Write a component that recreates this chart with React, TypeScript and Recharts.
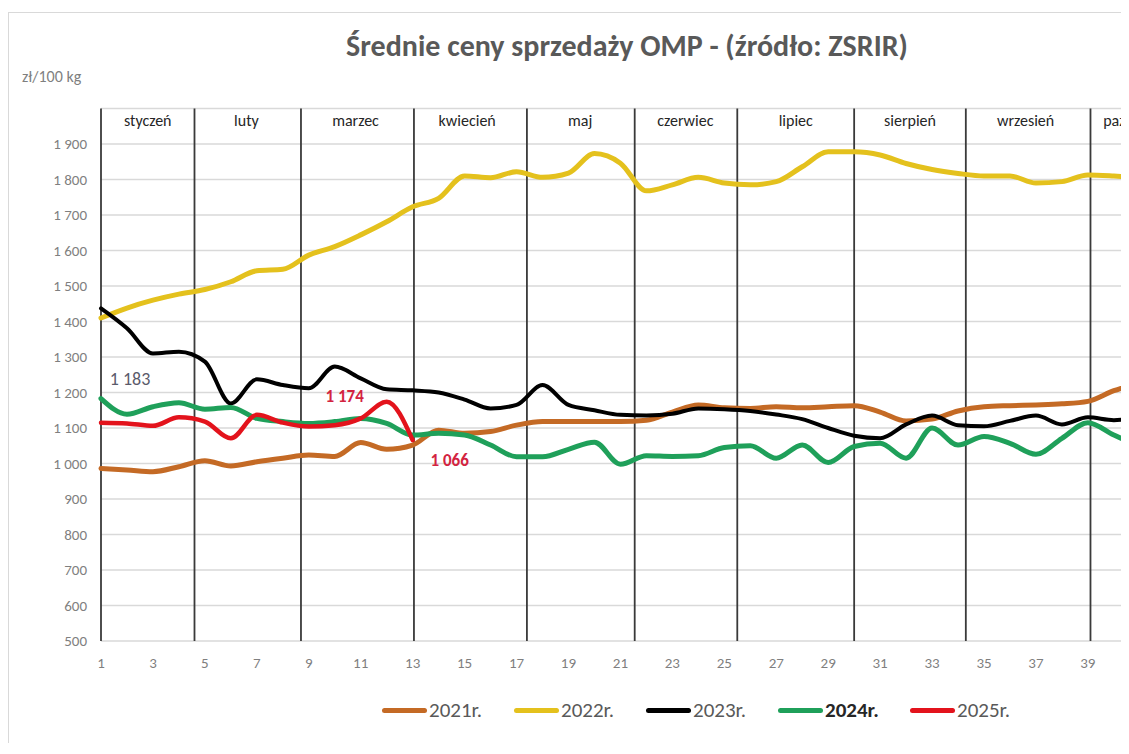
import React from 'react';
import { LineChart, Line, XAxis, YAxis, CartesianGrid, ReferenceLine, Legend } from 'recharts';

const FONT = 'Carlito, "Open Sans", "Noto Sans", sans-serif';

// tygodnie roku
const weeks = [
  1, 2, 3, 4, 5, 6, 7, 8, 9, 10, 11, 12, 13, 14, 15, 16, 17, 18, 19, 20, 21,
  22, 23, 24, 25, 26, 27, 28, 29, 30, 31, 32, 33, 34, 35, 36, 37, 38, 39, 40, 41,
];

const y2021 = [
  986, 982, 977, 991, 1008, 993, 1005, 1015, 1024, 1020, 1059, 1040, 1052, 1094, 1085, 1090, 1108,
  1118, 1118, 1118, 1118, 1122, 1145, 1165, 1157, 1155, 1160, 1157, 1160, 1163, 1145, 1120, 1125,
  1148, 1160, 1163, 1165, 1168, 1175, 1205, 1228,
];
const y2022 = [
  1410, 1438, 1460, 1477, 1490, 1512, 1543, 1547, 1587, 1611, 1644, 1681, 1723, 1747, 1810, 1805,
  1822, 1806, 1818, 1873, 1846, 1768, 1785, 1806, 1790, 1785, 1794, 1836, 1878, 1878, 1869, 1845,
  1828, 1817, 1810, 1810, 1790, 1794, 1813, 1810, 1805,
];
const y2023 = [
  1437, 1381, 1310, 1315, 1287, 1169, 1237, 1221, 1212, 1273, 1240, 1209, 1206, 1200, 1180, 1155,
  1165, 1221, 1165, 1150, 1137, 1135, 1140, 1155, 1153, 1148, 1138, 1125, 1100, 1078, 1071, 1110,
  1135, 1108, 1105, 1120, 1135, 1110, 1130, 1122, 1132,
];
const y2024 = [
  1183, 1139, 1160, 1171, 1153, 1158, 1127, 1118, 1113, 1118, 1127, 1113, 1080, 1085, 1080, 1052,
  1019, 1019, 1040, 1060, 998, 1022, 1020, 1022, 1045, 1050, 1015, 1052, 1003, 1048, 1057, 1015,
  1100, 1052, 1076, 1057, 1026, 1071, 1115, 1080, 1048,
];
const y2025 = [1115, 1113, 1106, 1130, 1118, 1071, 1137, 1115, 1104, 1108, 1127, 1174, 1066];

const yTicks = [500, 600, 700, 800, 900, 1000, 1100, 1200, 1300, 1400, 1500, 1600, 1700, 1800, 1900];
const xTicks = [1, 3, 5, 7, 9, 11, 13, 15, 17, 19, 21, 23, 25, 27, 29, 31, 33, 35, 37, 39, 41];

// granice miesięcy (w tygodniach) i położenie nazw
const monthBounds = [1, 4.6, 8.7, 13.05, 17.4, 21.55, 25.5, 30, 34.3, 39.1];
const monthNames = ['styczeń', 'luty', 'marzec', 'kwiecień', 'maj', 'czerwiec', 'lipiec', 'sierpień', 'wrzesień', 'październik'];
const monthLabelAt = [2.8, 6.6, 10.8, 15.1, 19.45, 23.5, 27.75, 32.15, 36.6, 41.0];

const series = [
  { key: 'y2021', name: '2021r.', color: '#C46A25', width: 5 },
  { key: 'y2022', name: '2022r.', color: '#E4C11D', width: 5 },
  { key: 'y2023', name: '2023r.', color: '#000000', width: 4 },
  { key: 'y2024', name: '2024r.', color: '#1FA05A', width: 5 },
  { key: 'y2025', name: '2025r.', color: '#E3131C', width: 4.5 },
];

const data = weeks.map((w, i) => ({
  week: w,
  y2021: y2021[i],
  y2022: y2022[i],
  y2023: y2023[i],
  y2024: y2024[i],
  y2025: i < y2025.length ? y2025[i] : null,
}));

const fmt = (v: number) =>
  v >= 1000 ? `${Math.floor(v / 1000)} ${String(v % 1000).padStart(3, '0')}` : String(v);

function MonthTick(props: any) {
  const { x, y, payload } = props;
  const i = monthLabelAt.indexOf(payload.value);
  return (
    <text x={x} y={y + 17} textAnchor="middle" fontSize={16} fill="#262626" fontFamily={FONT}>
      {monthNames[i]}
    </text>
  );
}

function GreenLabel(props: any) {
  const { x, y, index, value } = props;
  if (index !== 0) return null;
  return (
    <text x={x + 29} y={y - 20} textAnchor="middle" dominantBaseline="central" fontSize={18} fill="#5a5a6a" fontFamily={FONT}>
      {fmt(value)}
    </text>
  );
}

function RedLabel(props: any) {
  const { x, y, index, value } = props;
  if (index !== 11 && index !== 12) return null;
  const dx = index === 11 ? -42 : 37;
  const dy = index === 11 ? -5 : 20;
  return (
    <text x={x + dx} y={y + dy} textAnchor="middle" dominantBaseline="central" fontSize={17} fontWeight={600} fill="#D3233F" fontFamily={FONT}>
      {fmt(value)}
    </text>
  );
}

function LegendContent(props: any) {
  const items = props.payload || [];
  return (
    <div style={{ display: 'flex', fontFamily: FONT }}>
      {items.map((it: any) => (
        <div key={it.value} style={{ display: 'flex', alignItems: 'center', width: 132 }}>
          <span style={{ display: 'inline-block', width: 45, height: 5, borderRadius: 3, background: it.color }} />
          <span
            style={{
              marginLeft: 2,
              fontSize: 21,
              color: it.value === '2024r.' ? '#262626' : '#595959',
              fontWeight: it.value === '2024r.' ? 600 : 400,
            }}
          >
            {it.value}
          </span>
        </div>
      ))}
    </div>
  );
}

export default function App() {
  return (
    <div
      style={{
        position: 'relative',
        marginTop: 4,
        width: 1120,
        height: 730,
        overflow: 'hidden',
        borderTop: '1px solid #d9d9d9',
        borderLeft: '1px solid #d9d9d9',
        background: '#fff',
        fontFamily: FONT,
      }}
    >
      <div
        style={{
          position: 'absolute',
          left: 0,
          width: 1236,
          top: 15,
          textAlign: 'center',
          fontSize: 30,
          fontWeight: 600,
          color: '#595959',
          lineHeight: '36px',
        }}
      >
        Średnie ceny sprzedaży OMP - (źródło: ZSRIR)
      </div>
      <div style={{ position: 'absolute', left: 13, top: 54, fontSize: 16, color: '#7f7f7f' }}>zł/100 kg</div>
      <LineChart
        width={1170}
        height={730}
        data={data}
        margin={{ top: 75.5, right: 13.2, bottom: 72, left: 32 }}
      >
        <CartesianGrid stroke="#d9d9d9" strokeWidth={1.5} vertical={false} />
        <XAxis
          xAxisId="months"
          orientation="top"
          type="number"
          dataKey="week"
          domain={[1, 42]}
          ticks={monthLabelAt}
          interval={0}
          height={20}
          axisLine={false}
          tickLine={false}
          tickSize={0}
          tickMargin={0}
          tick={<MonthTick />}
        />
        <XAxis
          type="number"
          dataKey="week"
          domain={[1, 42]}
          ticks={xTicks}
          interval={0}
          height={30}
          axisLine={false}
          tickLine={false}
          tickMargin={10}
          tick={{ fill: '#7f7f7f', fontSize: 15, fontFamily: FONT }}
        />
        <YAxis
          domain={[500, 2000]}
          ticks={yTicks}
          interval={0}
          width={60}
          axisLine={false}
          tickLine={false}
          tickMargin={8}
          tickFormatter={fmt}
          tick={{ fill: '#7f7f7f', fontSize: 15, fontFamily: FONT }}
        />
        {monthBounds.map((b) => (
          <ReferenceLine key={b} x={b} stroke="#3a3a3a" strokeWidth={1.8} />
        ))}
        {series.map((s) => (
          <Line
            key={s.key}
            dataKey={s.key}
            name={s.name}
            type="monotone"
            stroke={s.color}
            strokeWidth={s.width}
            strokeLinecap="round"
            dot={false}
            activeDot={false}
            isAnimationActive={false}
            label={s.key === 'y2024' ? <GreenLabel /> : s.key === 'y2025' ? <RedLabel /> : undefined}
          />
        ))}
        <Legend
          verticalAlign="middle"
          layout="horizontal"
          content={<LegendContent />}
          wrapperStyle={{ top: 684, left: 373, width: 700, height: 28 }}
        />
      </LineChart>
    </div>
  );
}
